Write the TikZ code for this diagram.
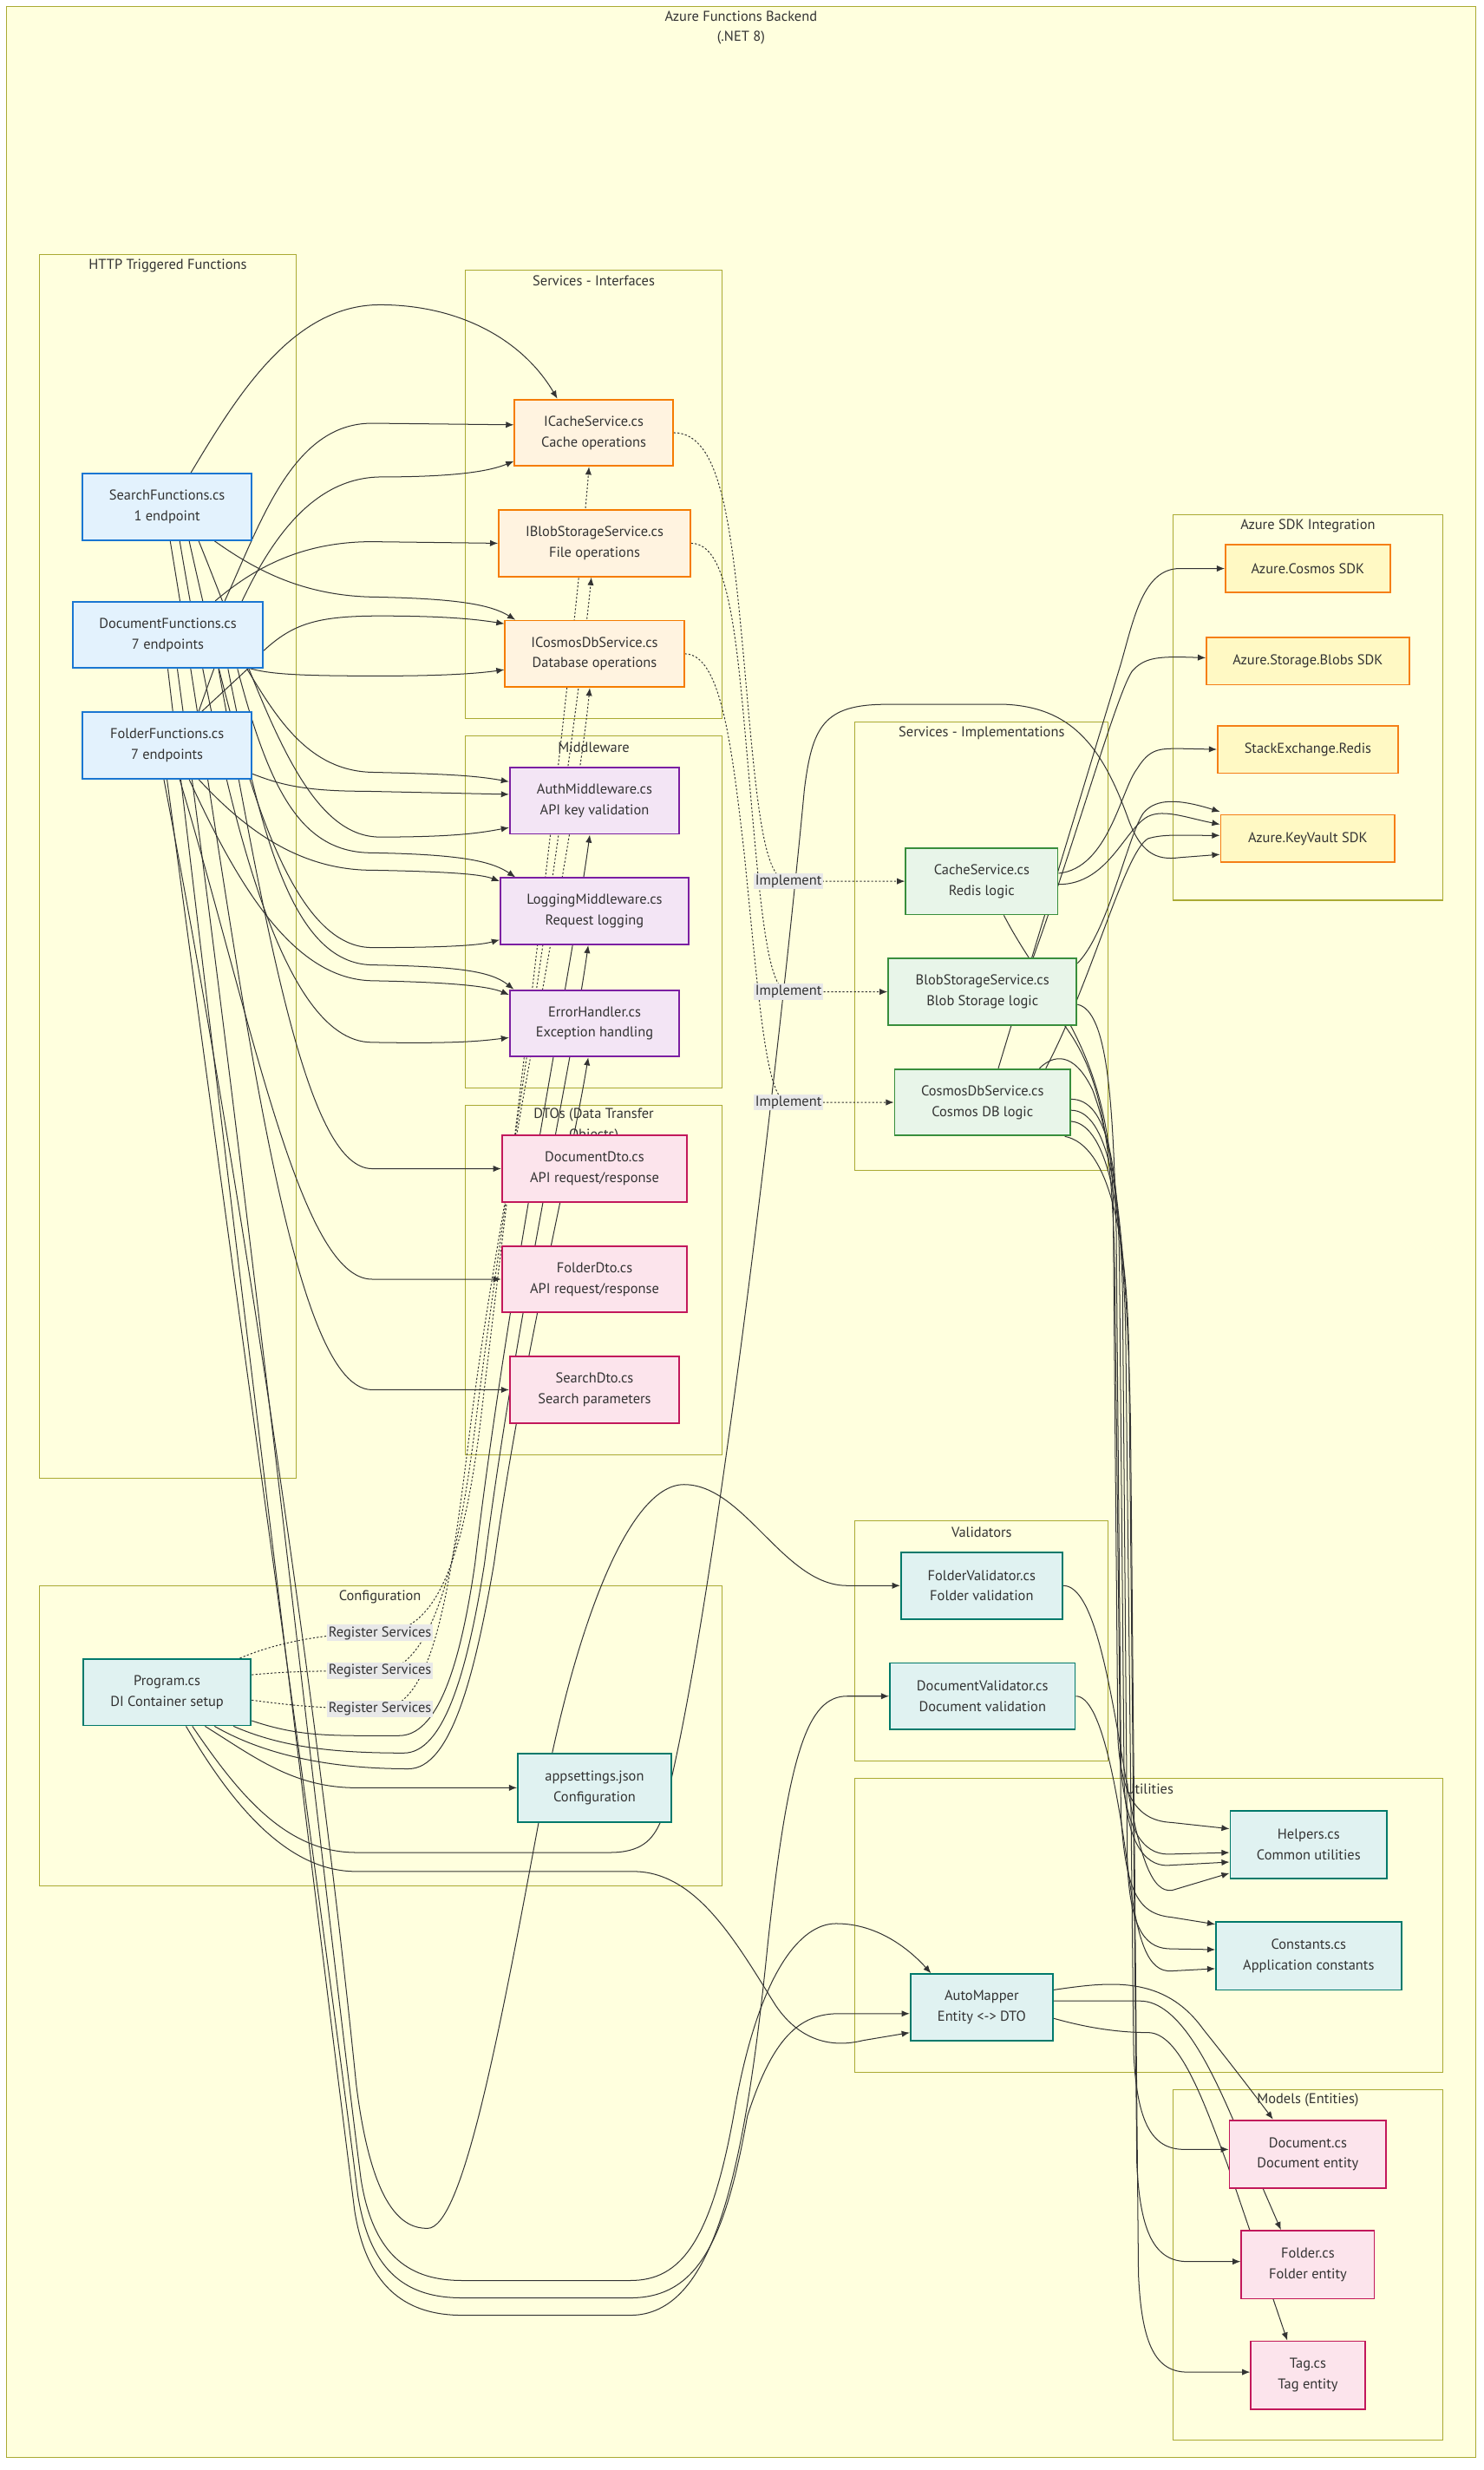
\documentclass[tikz,border=0pt]{standalone}
\usepackage{fontspec}
\setmainfont{PT Sans}
\usetikzlibrary{arrows.meta}

\definecolor{bgyellow}{HTML}{FFFFDE}
\definecolor{clusterline}{HTML}{AAAA33}
\definecolor{txtgray}{HTML}{333333}
\definecolor{lblfill}{HTML}{E8E8E8}
\definecolor{fnfill}{HTML}{E3F2FD}\definecolor{fnline}{HTML}{1976D2}
\definecolor{iffill}{HTML}{FFF3E0}\definecolor{ifline}{HTML}{F57C00}
\definecolor{mwfill}{HTML}{F3E5F5}\definecolor{mwline}{HTML}{7B1FA2}
\definecolor{dtofill}{HTML}{FCE4EC}\definecolor{dtoline}{HTML}{C2185B}
\definecolor{implfill}{HTML}{E8F5E9}\definecolor{implline}{HTML}{388E3C}
\definecolor{sdkfill}{HTML}{FFF9C4}\definecolor{sdkline}{HTML}{F57F17}
\definecolor{utilfill}{HTML}{E0F2F1}\definecolor{utilline}{HTML}{00796B}

\pgfdeclarelayer{background}
\pgfdeclarelayer{edgelayer}
\pgfsetlayers{background,edgelayer,main}

\tikzset{
  nodebox/.style={draw, line width=1pt, minimum height=42pt, inner sep=0pt, align=center,
    text=txtgray, font=\fontsize{9}{13}\selectfont},
  fnbox/.style={nodebox, fill=fnfill, draw=fnline},
  ifbox/.style={nodebox, fill=iffill, draw=ifline},
  mwbox/.style={nodebox, fill=mwfill, draw=mwline},
  dtobox/.style={nodebox, fill=dtofill, draw=dtoline},
  implbox/.style={nodebox, fill=implfill, draw=implline},
  sdkbox/.style={nodebox, fill=sdkfill, draw=sdkline, minimum height=30pt},
  utilbox/.style={nodebox, fill=utilfill, draw=utilline},
  cluster/.style={draw=clusterline, fill=bgyellow, line width=0.6pt},
  ctitle/.style={text=txtgray, font=\fontsize{9}{13}\selectfont, inner sep=0pt, align=center},
  conn/.style={draw=txtgray, line width=0.55pt, -{Latex[length=5pt,width=4pt]}},
  dconn/.style={conn, dash pattern=on 1.2pt off 1.2pt},
  lbl/.style={fill=lblfill, text=txtgray, font=\fontsize{9}{11}\selectfont, inner xsep=1pt, inner ysep=1pt}
}

% cluster: x1, y1, x2, y2, title x, title
\newcommand{\clusterbox}[6]{%
  \draw[cluster] (#1,#2) rectangle (#3,#4);
  \node[ctitle] at (#5,#2+7) {#6};
}

\begin{document}
\begin{tikzpicture}[x=1pt,y=-0.9975pt]
\useasboundingbox (0,0) rectangle (937,1564);

%%%%%%%%%%%%%%%%%%%%%%%%%%%%%%%%%%%%%%%%%%%%%%%%%%%%%%%%%%%%%%%%%%%%%
% HTTP Triggered Functions
\node[fnbox, minimum width=107pt] (searchfn) at (105.5,321) {SearchFunctions.cs\\1 endpoint};
\node[fnbox, minimum width=120pt] (docfn) at (106,402) {DocumentFunctions.cs\\7 endpoints};
\node[fnbox, minimum width=107pt] (folderfn) at (105.5,472) {FolderFunctions.cs\\7 endpoints};

% Services - Interfaces
\node[ifbox, minimum width=100pt] (icache) at (375,274) {ICacheService.cs\\Cache operations};
\node[ifbox, minimum width=121pt] (iblob) at (375.5,344) {IBlobStorageService.cs\\File operations};
\node[ifbox, minimum width=113pt] (icosmos) at (375.5,414) {ICosmosDbService.cs\\Database operations};

% Middleware
\node[mwbox, minimum width=107pt] (auth) at (375.5,507) {AuthMiddleware.cs\\API key validation};
\node[mwbox, minimum width=119pt] (logging) at (375.5,577) {LoggingMiddleware.cs\\Request logging};
\node[mwbox, minimum width=107pt] (errh) at (375.5,648) {ErrorHandler.cs\\Exception handling};

% DTOs
\node[dtobox, minimum width=117pt] (docdto) at (375.5,740) {DocumentDto.cs\\API request/response};
\node[dtobox, minimum width=117pt] (folderdto) at (375.5,810) {FolderDto.cs\\API request/response};
\node[dtobox, minimum width=107pt] (searchdto) at (375.5,880) {SearchDto.cs\\Search parameters};

% Services - Implementations
\node[implbox, minimum width=96pt] (cachesvc) at (620,558) {CacheService.cs\\Redis logic};
\node[implbox, minimum width=119pt] (blobsvc) at (620.5,628) {BlobStorageService.cs\\Blob Storage logic};
\node[implbox, minimum width=111pt] (cosmossvc) at (620.5,698) {CosmosDbService.cs\\Cosmos DB logic};

% Azure SDK Integration
\node[sdkbox, minimum width=104pt] (sdkcosmos) at (826,360) {Azure.Cosmos SDK};
\node[sdkbox, minimum width=128pt] (sdkblob) at (826,418.5) {Azure.Storage.Blobs SDK};
\node[sdkbox, minimum width=114pt] (sdkredis) at (826,474.5) {StackExchange.Redis};
\node[sdkbox, minimum width=110pt] (sdkkv) at (826,531) {Azure.KeyVault SDK};

% Validators
\node[utilbox, minimum width=102pt] (foldval) at (620,1004) {FolderValidator.cs\\Folder validation};
\node[utilbox, minimum width=117pt] (docval) at (620.5,1074) {DocumentValidator.cs\\Document validation};

% Utilities
\node[utilbox, minimum width=99pt, minimum height=43pt] (helpers) at (826.5,1168) {Helpers.cs\\Common utilities};
\node[utilbox, minimum width=117pt, minimum height=43pt] (constants) at (826.5,1238.5) {Constants.cs\\Application constants};
\node[utilbox, minimum width=90pt] (automapper) at (620,1271) {AutoMapper\\Entity <-> DTO};

% Models
\node[dtobox, minimum width=99pt, minimum height=43pt] (document) at (826,1364) {Document.cs\\Document entity};
\node[dtobox, minimum width=84pt, minimum height=43pt] (folder) at (826,1434) {Folder.cs\\Folder entity};
\node[dtobox, minimum width=72pt, minimum height=43pt] (tag) at (826,1504) {Tag.cs\\Tag entity};

% Configuration
\node[utilbox, minimum width=106pt] (program) at (105.5,1071.5) {Program.cs\\DI Container setup};
\node[utilbox, minimum width=97pt, minimum height=43pt] (appsettings) at (375.5,1132) {appsettings.json\\Configuration};

% edge labels
\node[lbl] (implA) at (498,558) {Implement};
\node[lbl] (implB) at (498,628) {Implement};
\node[lbl] (implC) at (498,698) {Implement};
\node[lbl] (regA) at (240,1034) {Register Services};
\node[lbl] (regB) at (240,1058) {Register Services};
\node[lbl] (regC) at (240,1082) {Register Services};

%%%%%%%%%%%%%%%%%%%%%%%%%%%%%%%%%%%%%%%%%%%%%%%%%%%%%%%%%%%%%%%%%%%%%
% subgraphs
\begin{pgfonlayer}{background}
  \fill[white] (0,0) rectangle (937,1564);
  \draw[cluster] (4,4) rectangle (932,1556);
  \node[ctitle] at (468,17.5) {Azure Functions Backend\\(.NET 8)};
  \clusterbox{25}{161}{187}{936}{106}{HTTP Triggered Functions}
  \clusterbox{294}{171}{456}{455}{375}{Services - Interfaces}
  \clusterbox{294}{466}{456}{689}{375}{Middleware}
  \draw[cluster] (294,700) rectangle (456,921);
  \node[ctitle] at (375,712.5) {DTOs (Data Transfer\\Objects)};
  \clusterbox{540}{457}{700}{741}{620}{Services - Implementations}
  \clusterbox{741}{326}{911}{570}{826}{Azure SDK Integration}
  \clusterbox{540}{963}{700}{1115}{620}{Validators}
  \clusterbox{540}{1126}{911}{1312}{726}{Utilities}
  \clusterbox{741}{1323}{911}{1545}{826}{Models (Entities)}
  \clusterbox{25}{1004}{456}{1194}{240}{Configuration}
\end{pgfonlayer}

%%%%%%%%%%%%%%%%%%%%%%%%%%%%%%%%%%%%%%%%%%%%%%%%%%%%%%%%%%%%%%%%%%%%%
% connectors
\begin{pgfonlayer}{edgelayer}
% functions -> interfaces
\draw[conn] ([xshift=15pt]searchfn.north) .. controls (150,250) and (185,193) .. (240,193) .. controls (290,193) and (330,215) .. ([xshift=-23pt]icache.north);
\draw[conn] ([xshift=36pt]docfn.north) .. controls (165,330) and (185,268) .. (235,268) -- ([yshift=5pt]icache.west);
\draw[conn] ([xshift=20pt]folderfn.north) .. controls (150,380) and (180,303) .. (240,302) .. controls (290,302) and (310,298) .. ([yshift=-18pt]icache.west);
\draw[conn] ([xshift=30pt]docfn.north) .. controls (160,360) and (190,343) .. (235,343) -- (iblob.west);
\draw[conn] ([xshift=30pt]searchfn.south) .. controls (160,360) and (190,377) .. (235,378) .. controls (290,379) and (310,383) .. ([xshift=-50pt]icosmos.north);
\draw[conn] ([yshift=-10pt]docfn.east) .. controls (185,395) and (200,390) .. (240,390) .. controls (280,390) and (300,392) .. ([yshift=19pt]icosmos.west);
\draw[conn] ([xshift=22pt]folderfn.north) -- (157,423) .. controls (170,427) and (190,428) .. (240,428) .. controls (285,428) and (305,426) .. ([yshift=-10pt]icosmos.west);

% functions -> middleware
\draw[conn] ([xshift=50pt]docfn.south) .. controls (175,455) and (195,488) .. (235,489) .. controls (280,490) and (300,491) .. ([yshift=12pt]auth.west);
\draw[conn] ([yshift=-18pt]folderfn.east) .. controls (175,496) and (190,501) .. (230,501) -- ([yshift=4pt]auth.west);
\draw[conn] ([xshift=20pt]searchfn.south) .. controls (165,440) and (190,530) .. (240,530) .. controls (290,530) and (305,527) .. ([yshift=-17pt]auth.west);
\draw[conn] ([xshift=44pt]docfn.south) .. controls (170,500) and (190,540) .. (235,540) .. controls (290,541) and (310,545) .. ([xshift=-50pt]logging.north);
\draw[conn] ([xshift=20pt]folderfn.south) .. controls (150,520) and (185,551) .. (235,551) .. controls (290,552) and (305,554) .. ([yshift=19pt]logging.west);
\draw[conn] ([xshift=14pt]searchfn.south) .. controls (150,480) and (180,600) .. (235,600) .. controls (290,600) and (305,598) .. ([yshift=-18pt]logging.west);
\draw[conn] ([xshift=38pt]docfn.south) .. controls (165,530) and (185,610) .. (235,611) .. controls (290,612) and (310,615) .. ([xshift=-51pt]errh.north);
\draw[conn] ([xshift=14pt]folderfn.south) .. controls (150,560) and (185,620) .. (235,621) .. controls (290,622) and (310,625) .. ([yshift=18pt]errh.west);
\draw[conn] ([xshift=8pt]searchfn.south) .. controls (140,500) and (175,660) .. (235,660) .. controls (290,661) and (305,659) .. ([yshift=-9pt]errh.west);

% functions -> dtos
\draw[conn] ([xshift=32pt]docfn.south) .. controls (170,600) and (195,740) .. (235,740) -- (docdto.west);
\draw[conn] ([xshift=8pt]folderfn.south) .. controls (160,650) and (190,810) .. (235,810) -- (folderdto.west);
\draw[conn] ([xshift=2pt]searchfn.south) .. controls (150,600) and (180,880) .. (235,880) -- (searchdto.west);

% functions -> validators, automapper
\draw[conn] ([xshift=-2pt]folderfn.south) .. controls (160,790) and (205,1120) .. (225,1320) .. controls (235,1400) and (255,1411) .. (270,1411) .. controls (292,1411) and (315,1290) .. (340,1155) .. controls (360,1040) and (395,940) .. (432,940) .. controls (470,940) and (495,1004) .. (535,1004) -- (foldval.west);
\draw[conn] ([xshift=6pt]docfn.south) .. controls (160,780) and (205,1200) .. (228,1380) .. controls (236,1430) and (260,1444) .. (292,1444) -- (398,1444) .. controls (430,1444) and (450,1420) .. (465,1330) .. controls (480,1250) and (505,1218) .. (528,1218) .. controls (555,1218) and (575,1235) .. ([xshift=-32pt]automapper.north);
\draw[conn] (folderfn.south) .. controls (150,830) and (205,1220) .. (226,1390) .. controls (234,1440) and (258,1455) .. (292,1455) -- (398,1455) .. controls (440,1455) and (458,1420) .. (472,1340) .. controls (488,1290) and (505,1275) .. (530,1275) -- ([yshift=-4pt]automapper.west);
\draw[conn] (docfn.south) .. controls (150,800) and (205,1250) .. (224,1400) .. controls (232,1450) and (258,1466) .. (292,1466) -- (398,1466) .. controls (450,1466) and (470,1380) .. (485,1230) .. controls (498,1110) and (510,1074) .. (535,1074) -- (docval.west);

% interfaces -> implementations
\draw[dconn] (icache.east) .. controls (455,274) and (462,330) .. (470,420) .. controls (478,510) and (482,558) .. (implA.center) -- (cachesvc.west);
\draw[dconn] (iblob.east) .. controls (460,344) and (465,400) .. (472,480) .. controls (480,570) and (484,628) .. (implB.center) -- (blobsvc.west);
\draw[dconn] (icosmos.east) .. controls (455,414) and (462,470) .. (470,540) .. controls (480,640) and (484,698) .. (implC.center) -- (cosmossvc.west);

% program -> interfaces
\draw[dconn] ([xshift=46pt]program.north) .. controls (175,1040) and (205,1034) .. (regA.center) .. controls (275,1034) and (292,990) .. (303,904) .. controls (320,760) and (362,420) .. ([xshift=-3pt]icache.south);
\draw[dconn] ([yshift=11pt]program.east) .. controls (185,1058) and (205,1058) .. (regB.center) .. controls (270,1058) and (288,1000) .. (300,904) .. controls (318,760) and (362,480) .. ([xshift=-2pt]iblob.south);
\draw[dconn] ([yshift=-5pt]program.east) .. controls (185,1080) and (205,1082) .. (regC.center) .. controls (275,1082) and (285,1000) .. (297,904) .. controls (315,760) and (362,540) .. ([xshift=-3pt]icosmos.south);

% program -> middleware, config, keyvault, automapper
\draw[conn] ([yshift=-18pt]program.east) .. controls (190,1100) and (210,1099) .. (252,1099) .. controls (275,1099) and (290,1060) .. (300,990) .. controls (320,820) and (360,620) .. ([xshift=-3pt]auth.south);
\draw[conn] ([xshift=42pt]program.south) .. controls (175,1105) and (205,1110) .. (255,1110) .. controls (280,1110) and (295,1060) .. (306,990) .. controls (325,840) and (360,680) .. ([xshift=-4pt]logging.south);
\draw[conn] ([xshift=30pt]program.south) .. controls (165,1110) and (205,1120) .. (258,1120) .. controls (285,1120) and (300,1060) .. (312,990) .. controls (330,860) and (360,740) .. ([xshift=-4pt]errh.south);
\draw[conn] ([xshift=24pt]program.south) .. controls (160,1112) and (185,1132) .. (225,1132) -- (appsettings.west);
\draw[conn] ([xshift=16pt]program.south) .. controls (150,1135) and (180,1173) .. (225,1173) -- (385,1173) .. controls (405,1173) and (412,1165) .. (417,1154) .. controls (450,1040) and (495,640) .. (508,500) .. controls (513,460) and (520,446) .. (560,446) -- (635,446) .. controls (675,448) and (695,470) .. (712,517) .. controls (720,540) and (730,545) .. (745,543) -- ([yshift=-10pt]sdkkv.west);
\draw[conn] ([xshift=12pt]program.south) .. controls (145,1140) and (180,1185) .. (225,1185) -- (400,1185) .. controls (440,1185) and (465,1230) .. (490,1270) .. controls (505,1292) and (525,1297) .. (545,1292) -- ([yshift=-16pt]automapper.west);

% implementations -> sdk
\draw[conn] ([xshift=10pt]cosmossvc.north) -- (708,420) .. controls (716,392) and (722,360) .. (745,360) -- (sdkcosmos.west);
\draw[conn] ([xshift=32pt]blobsvc.north) .. controls (680,530) and (705,440) .. (715,425) .. controls (722,417) and (730,416) .. (745,416) -- ([yshift=2pt]sdkblob.west);
\draw[conn] ([yshift=5pt]cachesvc.east) .. controls (700,550) and (708,500) .. (718,487) .. controls (726,474) and (732,474) .. (745,474) -- (sdkredis.west);
\draw[conn] ([yshift=18pt]blobsvc.east) .. controls (700,590) and (712,530) .. (722,515) .. controls (730,505) and (745,506) .. ([yshift=17pt]sdkkv.west);
\draw[conn] ([yshift=-2pt]cachesvc.east) .. controls (700,560) and (710,525) .. (725,517) .. controls (735,512) and (750,518) .. ([yshift=9pt]sdkkv.west);
\draw[conn] ([xshift=40pt]cosmossvc.north) .. controls (690,620) and (710,540) .. (725,531) .. controls (735,528) and (745,529) .. ([yshift=2pt]sdkkv.west);

% implementations, validators -> utilities
\draw[conn] ([xshift=14pt]cachesvc.south) .. controls (660,630) and (700,660) .. (703,760) -- (706,1100) .. controls (708,1140) and (720,1153) .. (740,1154) -- ([yshift=10pt]helpers.west);
\draw[conn] ([yshift=-8pt]blobsvc.east) .. controls (700,640) and (703,700) .. (705,780) -- (708,1120) .. controls (712,1165) and (725,1175) .. (740,1174) -- ([yshift=-5pt]helpers.west);
\draw[conn] ([yshift=2pt]cosmossvc.east) .. controls (700,696) and (706,740) .. (707,800) -- (710,1130) .. controls (712,1170) and (725,1183) .. (740,1181) -- ([yshift=-11pt]helpers.west);
\draw[conn] (foldval.east) .. controls (690,1004) and (700,1060) .. (710,1120) .. controls (720,1180) and (728,1198) .. (740,1197) -- ([yshift=-18pt]helpers.west);
\draw[conn] ([xshift=52pt]blobsvc.south) .. controls (695,680) and (702,720) .. (704,800) -- (708,1150) .. controls (711,1200) and (720,1212) .. (740,1214) -- ([yshift=20pt]constants.west);
\draw[conn] ([yshift=-5pt]cosmossvc.east) .. controls (700,703) and (708,760) .. (709,820) -- (712,1180) .. controls (714,1225) and (725,1234) .. (740,1234) -- ([yshift=4pt]constants.west);
\draw[conn] (docval.east) .. controls (695,1074) and (705,1130) .. (712,1180) .. controls (718,1230) and (725,1249) .. (740,1248) -- ([yshift=-8pt]constants.west);

% implementations -> models
\draw[conn] ([yshift=-12pt]cosmossvc.east) .. controls (700,712) and (710,770) .. (711,850) -- (716,1300) .. controls (718,1345) and (728,1361) .. (748,1361) -- ([yshift=3pt]document.west);
\draw[conn] ([xshift=-4pt]cosmossvc.south east) .. controls (700,725) and (712,780) .. (713,860) -- (718,1370) .. controls (720,1415) and (730,1432) .. (750,1432) -- ([yshift=2pt]folder.west);
\draw[conn] ([xshift=36pt]cosmossvc.north) .. controls (665,668) and (678,665) .. (690,690) .. controls (705,730) and (712,800) .. (714,900) -- (719,1440) .. controls (721,1485) and (730,1502) .. (750,1502) -- ([yshift=2pt]tag.west);

% automapper -> models
\draw[conn] ([yshift=11pt]automapper.east) .. controls (700,1255) and (735,1250) .. (760,1285) .. controls (780,1310) and (795,1330) .. ([xshift=-22pt]document.north);
\draw[conn] ([yshift=4pt]automapper.east) -- (720,1267) .. controls (745,1267) and (765,1310) .. (780,1345) -- ([xshift=-17pt]folder.north);
\draw[conn] ([yshift=-7pt]automapper.east) .. controls (690,1285) and (710,1287) .. (725,1287) .. controls (745,1287) and (760,1330) .. (775,1370) -- ([xshift=-13pt]tag.north);
\end{pgfonlayer}

\end{tikzpicture}
\end{document}
